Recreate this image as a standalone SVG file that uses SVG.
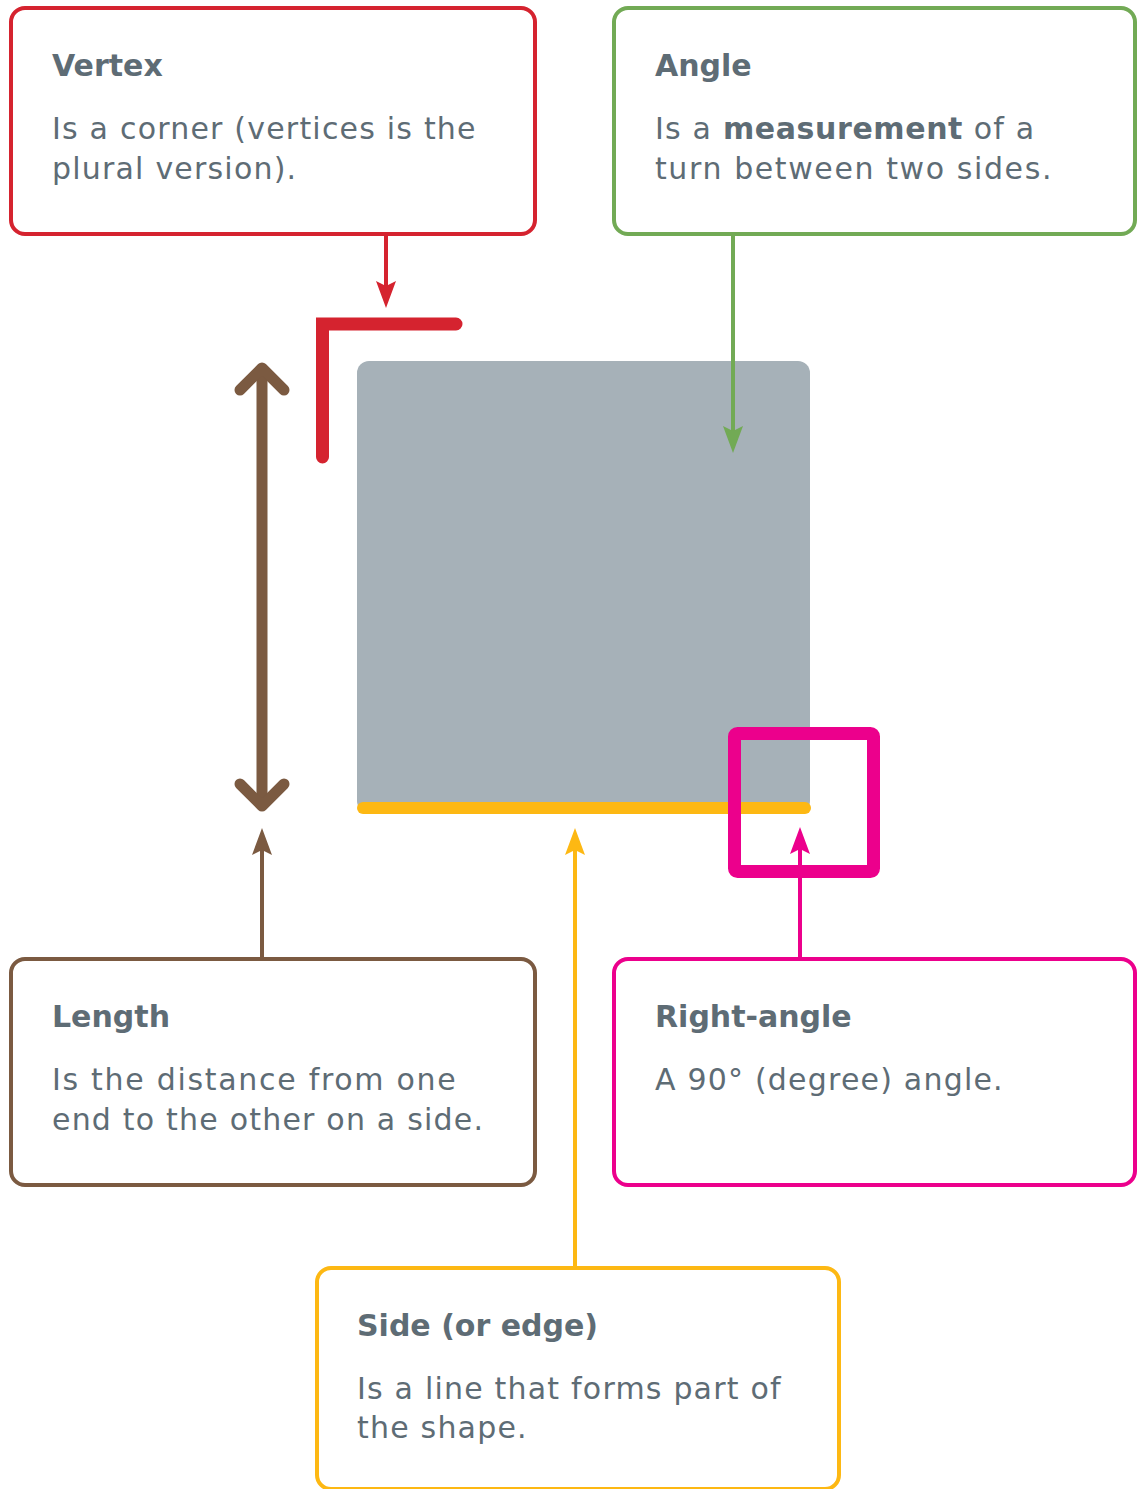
<svg xmlns="http://www.w3.org/2000/svg" width="1137" height="1489" viewBox="0 0 1137 1489">
<style>
.box{fill:#fff;stroke-width:4}
.title{font-family:"DejaVu Sans",sans-serif;font-weight:bold;font-size:30px;fill:#5e6c75}
.body{font-family:"DejaVu Sans",sans-serif;font-size:30px;letter-spacing:1.2px;fill:#5e6c75}
.conn{fill:none;stroke-width:4}
</style>
<defs>
<marker id="ah-red" viewBox="0 0 27 20" refX="5" refY="10" markerWidth="27" markerHeight="20" markerUnits="userSpaceOnUse" orient="auto"><path d="M0,0 L27,10 L0,20 L5,10 Z" fill="#d5232f"/></marker>
<marker id="ah-green" viewBox="0 0 27 20" refX="5" refY="10" markerWidth="27" markerHeight="20" markerUnits="userSpaceOnUse" orient="auto"><path d="M0,0 L27,10 L0,20 L5,10 Z" fill="#72aa55"/></marker>
<marker id="ah-brown" viewBox="0 0 27 20" refX="5" refY="10" markerWidth="27" markerHeight="20" markerUnits="userSpaceOnUse" orient="auto"><path d="M0,0 L27,10 L0,20 L5,10 Z" fill="#7b5a41"/></marker>
<marker id="ah-yellow" viewBox="0 0 27 20" refX="5" refY="10" markerWidth="27" markerHeight="20" markerUnits="userSpaceOnUse" orient="auto"><path d="M0,0 L27,10 L0,20 L5,10 Z" fill="#fdb813"/></marker>
<marker id="ah-magenta" viewBox="0 0 27 20" refX="5" refY="10" markerWidth="27" markerHeight="20" markerUnits="userSpaceOnUse" orient="auto"><path d="M0,0 L27,10 L0,20 L5,10 Z" fill="#ec008c"/></marker>
</defs>

<g id="shape">
<rect x="357" y="361" width="453" height="452" rx="12" fill="#a6b1b8"/>
<path d="M363,808 H805" stroke="#fdb813" stroke-width="12" stroke-linecap="round"/>
</g>

<g id="vertex-mark">
<path d="M322.5,457 V324 H456" fill="none" stroke="#d5232f" stroke-width="13" stroke-linecap="round" stroke-linejoin="miter"/>
</g>

<g id="length-mark" fill="none" stroke="#7b5a41" stroke-width="11" stroke-linecap="round" stroke-linejoin="round">
<path d="M262,370 V804"/>
<path d="M240,390 L262,368 L284,390"/>
<path d="M240,784 L262,806 L284,784"/>
</g>

<g id="right-angle-mark">
<rect x="734.5" y="733.5" width="139" height="138" rx="3" fill="none" stroke="#ec008c" stroke-width="13"/>
</g>

<g id="connectors">
<path class="conn" d="M386,235 V286" stroke="#d5232f" marker-end="url(#ah-red)"/>
<path class="conn" d="M733,235 V431" stroke="#72aa55" marker-end="url(#ah-green)"/>
<path class="conn" d="M262,958 V850" stroke="#7b5a41" marker-end="url(#ah-brown)"/>
<path class="conn" d="M575,1267 V850" stroke="#fdb813" marker-end="url(#ah-yellow)"/>
<path class="conn" d="M800,958 V849" stroke="#ec008c" marker-end="url(#ah-magenta)"/>
</g>

<g id="node-vertex">
<rect class="box" x="11" y="8" width="524" height="226" rx="14" stroke="#d5232f"/>
<text class="title" x="52" y="76">Vertex</text>
<text class="body" x="52" y="139">Is a corner (vertices is the</text>
<text class="body" x="52" y="179">plural version).</text>
</g>

<g id="node-angle">
<rect class="box" x="614" y="8" width="521" height="226" rx="14" stroke="#72aa55"/>
<text class="title" x="655" y="76">Angle</text>
<text class="body" x="655" y="139">Is a <tspan style="font-weight:bold;letter-spacing:0.6px">measurement</tspan> of a</text>
<text class="body" x="655" y="179" style="letter-spacing:1.6px">turn between two sides.</text>
</g>

<g id="node-length">
<rect class="box" x="11" y="959" width="524" height="226" rx="14" stroke="#7b5a41"/>
<text class="title" x="52" y="1027">Length</text>
<text class="body" x="52" y="1090" style="letter-spacing:1.7px">Is the distance from one</text>
<text class="body" x="52" y="1130">end to the other on a side.</text>
</g>

<g id="node-right-angle">
<rect class="box" x="614" y="959" width="521" height="226" rx="14" stroke="#ec008c"/>
<text class="title" x="655" y="1027">Right-angle</text>
<text class="body" x="655" y="1090">A 90° (degree) angle.</text>
</g>

<g id="node-side">
<rect class="box" x="317" y="1268" width="522" height="221" rx="14" stroke="#fdb813"/>
<text class="title" x="357" y="1336">Side (or edge)</text>
<text class="body" x="357" y="1399">Is a line that forms part of</text>
<text class="body" x="357" y="1438">the shape.</text>
</g>
</svg>
